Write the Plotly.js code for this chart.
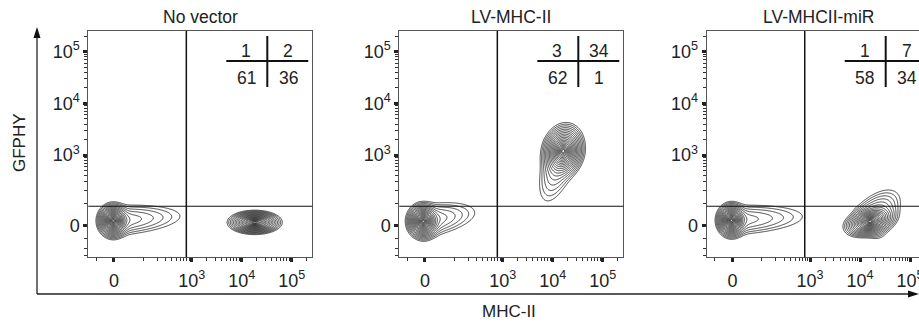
<!DOCTYPE html>
<html><head><meta charset="utf-8">
<script src="https://cdn.plot.ly/plotly-3.0.1.min.js"></script>
<style>html,body{margin:0;padding:0;background:#fff}</style>
</head><body><div id="chart" style="width:919px;height:322px"></div>
<script>
// ---- chart data ----
const panelTitles = ["No vector", "LV-MHC-II", "LV-MHCII-miR"];
const quadUL = ["1", "3", "1"];
const quadUR = ["2", "34", "7"];
const quadLL = ["61", "62", "58"];
const quadLR = ["36", "1", "34"];
const tickValues = [0, 1e3, 1e4, 1e5];
const tickLabels = ["0", "10<sup>3</sup>", "10<sup>4</sup>", "10<sup>5</sup>"];
const xMinorValues = [-50, 100, 200, 300, 400, 500, 600, 700, 800, 900, 2e3, 3e3, 4e3, 5e3, 6e3, 7e3, 8e3, 9e3, 2e4, 3e4, 4e4, 5e4, 6e4, 7e4, 8e4, 9e4, 2e5];
const yMinorValues = [-150, -100, -50, 100, 200, 300, 400, 500, 600, 700, 800, 900, 2e3, 3e3, 4e3, 5e3, 6e3, 7e3, 8e3, 9e3, 2e4, 3e4, 4e4, 5e4, 6e4, 7e4, 8e4, 9e4, 2e5];
const gateX = 780;   // MHC-II quadrant gate
const gateY = 85;    // GFPHY quadrant gate
const xAxisTitle = "MHC-II";
const yAxisTitle = "GFPHY";
// cell populations: core centre / spread (display decades), tilt (deg),
// plus a one-sided tail: direction (deg), length, width, weight
const popPanel = [0, 0, 1, 1, 2, 2];
const popCx    = [1.43, 4.26, 1.41, 4.21, 1.43, 4.20];
const popCy    = [1.73, 1.70, 1.72, 3.08, 1.74, 1.72];
const popSx    = [0.11, 0.175, 0.115, 0.14, 0.105, 0.18];
const popSy    = [0.115, 0.075, 0.12, 0.18, 0.115, 0.095];
const popRot   = [0, 0, 0, -15, 0, 15];
const tailDir  = [4, 0, 10, 250, 3, 45];
const tailLen  = [0.6, 0.0, 0.46, 0.42, 0.65, 0.3];
const tailWid  = [0.13, 0.05, 0.14, 0.14, 0.13, 0.15];
const tailW    = [0.09, 0.0, 0.1, 0.15, 0.08, 0.22];

// ---- biexponential display transform ----
const LN10 = Math.log(10);
const xT = v => Math.log10(27.9) + Math.asinh(v / 55.8) / LN10;
const yT = v => Math.log10(42.7) + Math.asinh(v / 85.4) / LN10;

const W = 919, H = 322;
const panelLeft = [88.3, 399.3, 706.7];
const xRange0 = 0.932, yRange = [1.025, 5.40];
const pxPerX = 50;
const frameTop = 31, frameBottom = 257.3;

function density(i, x, y) {
  const a = popRot[i] * Math.PI / 180;
  const dx = x - popCx[i], dy = y - popCy[i];
  const u = dx * Math.cos(a) + dy * Math.sin(a);
  const v = -dx * Math.sin(a) + dy * Math.cos(a);
  let rho = Math.exp(-0.5 * ((u / popSx[i]) ** 2 + (v / popSy[i]) ** 2));
  if (tailW[i] > 0) {
    const b = tailDir[i] * Math.PI / 180;
    const t = dx * Math.cos(b) + dy * Math.sin(b);
    const n = -dx * Math.sin(b) + dy * Math.cos(b);
    const sAlong = t > 0 ? tailLen[i] : 0.1;
    rho += tailW[i] * Math.exp(-0.5 * ((t / sAlong) ** 2 + (n / tailWid[i]) ** 2));
  }
  return rho / (1 + tailW[i]);
}

function buildGrid(p) {
  const xs = [], ys = [];
  for (let x = 0.93; x <= 5.42; x += 0.012) xs.push(x);
  for (let y = 1.02; y <= 5.41; y += 0.012) ys.push(y);
  const idx = popPanel.map((q, i) => q === p ? i : -1).filter(i => i >= 0);
  const z = ys.map(y => xs.map(x => {
    let rho = 0;
    idx.forEach(i => { rho += density(i, x, y); });
    rho = Math.max(rho, 1e-12);
    return -Math.pow(Math.max(0, -Math.log(rho)), 0.4);
  }));
  return {xs, ys, z};
}

const px = x => x / W, py = y => 1 - y / H;
const traces = [];
const layout = {
  width: W, height: H, margin: {l: 0, r: 0, t: 0, b: 0}, showlegend: false,
  paper_bgcolor: '#fff', plot_bgcolor: '#fff',
  font: {family: 'Liberation Sans, Arial, sans-serif', size: 17, color: '#222'},
  shapes: [], annotations: []
};

for (let p = 0; p < 3; p++) {
  const s = p === 0 ? '' : String(p + 1);
  const L = panelLeft[p];
  const R = Math.min(W, L + 224);
  const xEnd = xRange0 + (R - L) / pxPerX;
  const g = buildGrid(p);
  traces.push({
    type: 'contour', x: g.xs, y: g.ys, z: g.z, xaxis: 'x' + s, yaxis: 'y' + s,
    contours: {coloring: 'lines', start: -1.9, end: -0.15, size: 0.09},
    colorscale: [[0, '#222'], [1, '#222']], showscale: false,
    line: {width: 0.85, smoothing: 1}, hoverinfo: 'skip'
  });
  layout['xaxis' + s] = {
    domain: [px(L), px(R)], range: [xRange0, xEnd], anchor: 'y' + s,
    tickmode: 'array', tickvals: tickValues.map(xT), ticktext: tickLabels,
    ticks: 'outside', ticklen: 4, tickwidth: 3, tickcolor: '#222',
    showline: true, linecolor: '#555', linewidth: 1, mirror: true,
    showgrid: false, zeroline: false, fixedrange: true, ticklabelstandoff: 3,
    ticklabeloverflow: 'allow',
    tickfont: {size: 18, color: '#222'},
    minor: {tickmode: 'array', tickvals: xMinorValues.map(xT), ticks: 'outside', ticklen: 3, tickwidth: 1, tickcolor: '#333', showgrid: false}
  };
  layout['yaxis' + s] = {
    domain: [py(frameBottom), py(frameTop)], range: yRange, anchor: 'x' + s,
    tickmode: 'array', tickvals: tickValues.map(yT), ticktext: tickLabels,
    ticks: 'outside', ticklen: 4, tickwidth: 3, tickcolor: '#222',
    showline: true, linecolor: '#555', linewidth: 1, mirror: p < 2,
    showgrid: false, zeroline: false, fixedrange: true,
    tickfont: {size: 18, color: '#222'},
    minor: {tickmode: 'array', tickvals: yMinorValues.map(yT), ticks: 'outside', ticklen: 3, tickwidth: 1, tickcolor: '#333', showgrid: false}
  };
  // quadrant gates
  layout.shapes.push({type: 'line', xref: 'x' + s, yref: 'y' + s + ' domain', x0: xT(gateX), x1: xT(gateX), y0: 0, y1: 1, line: {color: '#111', width: 1.5}});
  layout.shapes.push({type: 'line', xref: 'x' + s + ' domain', yref: 'y' + s, x0: 0, x1: 1, y0: yT(gateY), y1: yT(gateY), line: {color: '#111', width: 1.2}});
  // quadrant percentage cross
  const vx = L + 179;
  layout.shapes.push({type: 'line', xref: 'paper', yref: 'paper', x0: px(vx), x1: px(vx), y0: py(36), y1: py(87), line: {color: '#111', width: 2}});
  layout.shapes.push({type: 'line', xref: 'paper', yref: 'paper', x0: px(vx - 41), x1: px(Math.min(W, vx + 41)), y0: py(61), y1: py(61), line: {color: '#111', width: 2}});
  const cells = [[quadUL[p], vx - 21, 51], [quadUR[p], vx + 21, 51], [quadLL[p], vx - 21, 78], [quadLR[p], vx + 21, 78]];
  cells.forEach(c => layout.annotations.push({xref: 'paper', yref: 'paper', x: px(c[1]), y: py(c[2]), text: c[0], showarrow: false, xanchor: 'center', yanchor: 'middle', font: {size: 17.5, color: '#222'}}));
  // panel title
  layout.annotations.push({xref: 'paper', yref: 'paper', x: px(L + 112), y: py(17), text: panelTitles[p], showarrow: false, xanchor: 'center', yanchor: 'middle', font: {size: 17.5, color: '#222'}});
}

// outer axis arrows and titles
layout.shapes.push({type: 'line', xref: 'paper', yref: 'paper', x0: px(37), x1: px(37), y0: py(294), y1: py(36), line: {color: '#222', width: 1.3}});
layout.shapes.push({type: 'path', xref: 'paper', yref: 'paper', path: `M ${px(37)} ${py(27)} L ${px(33.5)} ${py(38)} L ${px(40.5)} ${py(38)} Z`, fillcolor: '#111', line: {width: 0}});
layout.shapes.push({type: 'line', xref: 'paper', yref: 'paper', x0: px(37), x1: px(910), y0: py(294), y1: py(294), line: {color: '#222', width: 1.3}});
layout.shapes.push({type: 'path', xref: 'paper', yref: 'paper', path: `M ${px(919)} ${py(294)} L ${px(908)} ${py(290.5)} L ${px(908)} ${py(297.5)} Z`, fillcolor: '#111', line: {width: 0}});
layout.annotations.push({xref: 'paper', yref: 'paper', x: px(19), y: py(143), text: yAxisTitle, textangle: -90, showarrow: false, xanchor: 'center', yanchor: 'middle', font: {size: 17, color: '#222'}});
layout.annotations.push({xref: 'paper', yref: 'paper', x: px(509), y: py(311), text: xAxisTitle, showarrow: false, xanchor: 'center', yanchor: 'middle', font: {size: 17, color: '#222'}});

Plotly.newPlot('chart', traces, layout, {displayModeBar: false, staticPlot: true});
</script></body></html>
